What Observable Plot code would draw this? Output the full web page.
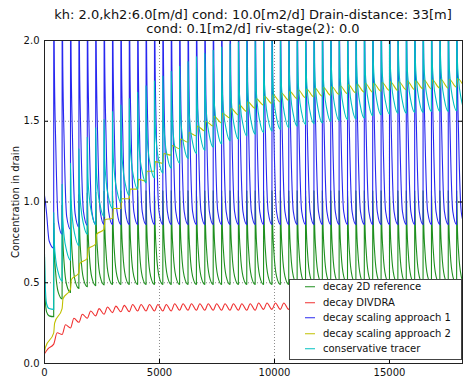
<!DOCTYPE html>
<html>
<head>
<meta charset="utf-8">
<script src="https://cdn.jsdelivr.net/npm/d3@7"></script>
<script src="https://cdn.jsdelivr.net/npm/@observablehq/plot@0.6"></script>
<style>
  html, body { margin: 0; padding: 0; background: #fff; }
  #chart { position: relative; width: 463px; height: 380px; overflow: hidden;
           font-family: "DejaVu Sans", sans-serif; color: #111; }
  #title { position: absolute; left: 44px; width: 418px; top: 8px; text-align: center;
           font-size: 13px; line-height: 14px; white-space: nowrap; }
  #legend { position: absolute; left: 289px; top: 279px; width: 173px; height: 81px;
            box-sizing: border-box; border: 1px solid #444; background: #fff; font-size: 10px; }
  #legend .row { position: absolute; left: 0; height: 15.5px; line-height: 15.5px; white-space: nowrap; }
  #legend .row svg { position: absolute; left: 15px; top: 0; }
  #legend .row span { position: absolute; left: 33px; top: 0; }
</style>
</head>
<body>
<div id="chart"></div>
<script>
// Day at which each yearly cycle begins (first cycle starts at day 0)
const cycleStart = [
  0, 400, 765, 1130, 1495, 1860, 2225, 2590, 2955, 3320,
  3685, 4050, 4415, 4780, 5145, 5510, 5875, 6240, 6605, 6970,
  7335, 7700, 8065, 8430, 8795, 9160, 9525, 9890, 10255, 10620,
  10985, 11350, 11715, 12080, 12445, 12810, 13175, 13540, 13905, 14270,
  14635, 15000, 15365, 15730, 16095, 16460, 16825, 17190, 17555, 17920
];
const lastDay = 18250;
// days after a pulse where the decaying curves are sampled
const sampleDays = [30, 90, 200];

// decay 2D reference
const greenPeak = [
  0.66, 0.87, 0.98, 1.02, 1.045, 1.055, 1.062, 1.067, 1.07, 1.07,
  1.07, 1.07, 1.07, 1.07, 1.07, 1.07, 1.07, 1.07, 1.07, 1.07,
  1.07, 1.07, 1.07, 1.07, 1.07, 1.07, 1.07, 1.07, 1.07, 1.07,
  1.07, 1.07, 1.07, 1.07, 1.07, 1.07, 1.07, 1.07, 1.07, 1.07,
  1.07, 1.07, 1.07, 1.07, 1.07, 1.07, 1.07, 1.07, 1.07, 1.07
];
const green30 = [
  0.40, 0.70, 0.786, 0.82, 0.84, 0.849, 0.855, 0.859, 0.86, 0.86,
  0.86, 0.86, 0.86, 0.86, 0.86, 0.86, 0.86, 0.86, 0.86, 0.86,
  0.86, 0.86, 0.86, 0.86, 0.86, 0.86, 0.86, 0.86, 0.86, 0.86,
  0.86, 0.86, 0.86, 0.86, 0.86, 0.86, 0.86, 0.86, 0.86, 0.86,
  0.86, 0.86, 0.86, 0.86, 0.86, 0.86, 0.86, 0.86, 0.86, 0.86
];
const green90 = [
  0.32, 0.555, 0.618, 0.648, 0.663, 0.671, 0.677, 0.68, 0.68, 0.68,
  0.68, 0.68, 0.68, 0.68, 0.68, 0.68, 0.68, 0.68, 0.68, 0.68,
  0.68, 0.68, 0.68, 0.68, 0.68, 0.68, 0.68, 0.68, 0.68, 0.68,
  0.68, 0.68, 0.68, 0.68, 0.68, 0.68, 0.68, 0.68, 0.68, 0.68,
  0.68, 0.68, 0.68, 0.68, 0.68, 0.68, 0.68, 0.68, 0.68, 0.68
];
const green200 = [
  0.295, 0.44, 0.486, 0.513, 0.524, 0.531, 0.536, 0.54, 0.54, 0.54,
  0.54, 0.54, 0.54, 0.54, 0.54, 0.54, 0.54, 0.54, 0.54, 0.54,
  0.54, 0.54, 0.54, 0.54, 0.54, 0.54, 0.54, 0.54, 0.54, 0.54,
  0.54, 0.54, 0.54, 0.54, 0.54, 0.54, 0.54, 0.54, 0.54, 0.54,
  0.54, 0.54, 0.54, 0.54, 0.54, 0.54, 0.54, 0.54, 0.54, 0.54
];
const greenLow = [
  0.29, 0.40, 0.44, 0.465, 0.475, 0.482, 0.487, 0.49, 0.49, 0.49,
  0.49, 0.49, 0.49, 0.49, 0.49, 0.49, 0.49, 0.49, 0.49, 0.49,
  0.49, 0.49, 0.49, 0.49, 0.49, 0.49, 0.49, 0.49, 0.49, 0.49,
  0.49, 0.49, 0.49, 0.49, 0.49, 0.49, 0.49, 0.49, 0.49, 0.49,
  0.49, 0.49, 0.49, 0.49, 0.49, 0.49, 0.49, 0.49, 0.49, 0.49
];

// decay DIVDRA
const redStart = 0.06;
const redPeak = [
  0.09, 0.19, 0.24, 0.28, 0.305, 0.325, 0.34, 0.35, 0.355, 0.36,
  0.365, 0.365, 0.365, 0.365, 0.365, 0.37, 0.37, 0.37, 0.37, 0.37,
  0.37, 0.37, 0.37, 0.37, 0.37, 0.375, 0.375, 0.375, 0.375, 0.375,
  0.375, 0.375, 0.375, 0.375, 0.375, 0.375, 0.375, 0.375, 0.375, 0.375,
  0.38, 0.38, 0.38, 0.38, 0.38, 0.38, 0.38, 0.38, 0.38, 0.38
];
const redLow = [
  0.12, 0.18, 0.22, 0.255, 0.28, 0.295, 0.305, 0.315, 0.32, 0.32,
  0.325, 0.325, 0.325, 0.325, 0.325, 0.33, 0.33, 0.33, 0.33, 0.33,
  0.33, 0.33, 0.33, 0.33, 0.33, 0.335, 0.335, 0.335, 0.335, 0.335,
  0.335, 0.335, 0.335, 0.335, 0.335, 0.335, 0.335, 0.335, 0.335, 0.335,
  0.335, 0.335, 0.335, 0.335, 0.335, 0.335, 0.335, 0.335, 0.335, 0.335
];

// decay scaling approach 1
const bluePeak = [
  1.04, 2.30, 2.30, 2.30, 2.30, 2.30, 2.30, 2.30, 2.30, 2.30,
  2.30, 2.30, 2.30, 2.30, 2.30, 2.30, 2.30, 2.30, 2.30, 2.30,
  2.30, 2.30, 2.30, 2.30, 2.30, 2.30, 2.30, 2.30, 2.30, 2.30,
  2.30, 2.30, 2.30, 2.30, 2.30, 2.30, 2.30, 2.30, 2.30, 2.30,
  2.30, 2.30, 2.30, 2.30, 2.30, 2.30, 2.30, 2.30, 2.30, 2.30
];
const blue30 = [
  1.01, 1.82, 1.84, 1.85, 1.85, 1.85, 1.85, 1.85, 1.85, 1.85,
  1.85, 1.85, 1.85, 1.85, 1.85, 1.85, 1.85, 1.85, 1.85, 1.85,
  1.85, 1.85, 1.85, 1.85, 1.85, 1.85, 1.85, 1.85, 1.85, 1.85,
  1.85, 1.85, 1.85, 1.85, 1.85, 1.85, 1.85, 1.85, 1.85, 1.85,
  1.85, 1.85, 1.85, 1.85, 1.85, 1.85, 1.85, 1.85, 1.85, 1.85
];
const blue90 = [
  0.93, 1.35, 1.37, 1.38, 1.38, 1.38, 1.38, 1.38, 1.38, 1.38,
  1.38, 1.38, 1.38, 1.38, 1.38, 1.38, 1.38, 1.38, 1.38, 1.38,
  1.38, 1.38, 1.38, 1.38, 1.38, 1.38, 1.38, 1.38, 1.38, 1.38,
  1.38, 1.38, 1.38, 1.38, 1.38, 1.38, 1.38, 1.38, 1.38, 1.38,
  1.38, 1.38, 1.38, 1.38, 1.38, 1.38, 1.38, 1.38, 1.38, 1.38
];
const blue200 = [
  0.76, 0.88, 0.91, 0.93, 0.94, 0.94, 0.94, 0.94, 0.94, 0.94,
  0.94, 0.94, 0.94, 0.94, 0.94, 0.94, 0.94, 0.94, 0.94, 0.94,
  0.94, 0.94, 0.94, 0.94, 0.94, 0.94, 0.94, 0.94, 0.94, 0.94,
  0.94, 0.94, 0.94, 0.94, 0.94, 0.94, 0.94, 0.94, 0.94, 0.94,
  0.94, 0.94, 0.94, 0.94, 0.94, 0.94, 0.94, 0.94, 0.94, 0.94
];
const blueLow = [
  0.715, 0.80, 0.83, 0.845, 0.855, 0.86, 0.86, 0.86, 0.86, 0.86,
  0.86, 0.86, 0.86, 0.86, 0.86, 0.86, 0.86, 0.86, 0.86, 0.86,
  0.86, 0.86, 0.86, 0.86, 0.86, 0.86, 0.86, 0.86, 0.86, 0.86,
  0.86, 0.86, 0.86, 0.86, 0.86, 0.86, 0.86, 0.86, 0.86, 0.86,
  0.86, 0.86, 0.86, 0.86, 0.86, 0.86, 0.86, 0.86, 0.86, 0.86
];

// decay scaling approach 2
const yellowStart = 0.07;
const yellowPeak = [
  0.10, 0.25, 0.40, 0.52, 0.62, 0.71, 0.80, 0.89, 0.96, 1.02,
  1.08, 1.14, 1.19, 1.25, 1.30, 1.35, 1.39, 1.43, 1.47, 1.50,
  1.53, 1.55, 1.58, 1.60, 1.62, 1.64, 1.655, 1.665, 1.675, 1.685,
  1.695, 1.70, 1.705, 1.71, 1.715, 1.72, 1.725, 1.73, 1.735, 1.735,
  1.74, 1.745, 1.745, 1.75, 1.75, 1.755, 1.755, 1.76, 1.76, 1.765
];
const yellowLow = [
  0.19, 0.34, 0.46, 0.56, 0.65, 0.74, 0.83, 0.90, 0.96, 1.02,
  1.08, 1.13, 1.19, 1.24, 1.29, 1.33, 1.37, 1.41, 1.44, 1.47,
  1.49, 1.52, 1.54, 1.56, 1.58, 1.60, 1.61, 1.62, 1.63, 1.64,
  1.645, 1.65, 1.655, 1.66, 1.665, 1.67, 1.675, 1.68, 1.68, 1.685,
  1.69, 1.69, 1.695, 1.695, 1.70, 1.70, 1.705, 1.705, 1.71, 1.71
];

// conservative tracer
const cyanPeak = [
  0.68, 0.935, 1.11, 1.24, 1.33, 1.40, 1.46, 1.51, 1.56, 1.60,
  1.64, 1.68, 1.72, 1.75, 1.78, 1.81, 1.84, 1.87, 1.90, 1.92,
  1.94, 1.96, 1.98, 1.99, 2.01, 2.02, 2.03, 2.04, 2.05, 2.06,
  2.07, 2.08, 2.085, 2.09, 2.10, 2.105, 2.11, 2.115, 2.12, 2.135,
  2.14, 2.145, 2.15, 2.15, 2.155, 2.155, 2.16, 2.16, 2.16, 2.165
];
const cyan30 = [
  0.50, 0.744, 0.899, 1.011, 1.092, 1.157, 1.213, 1.263, 1.308, 1.348,
  1.388, 1.428, 1.464, 1.494, 1.524, 1.554, 1.584, 1.614, 1.639, 1.659,
  1.679, 1.699, 1.715, 1.729, 1.745, 1.755, 1.765, 1.775, 1.785, 1.795,
  1.805, 1.812, 1.817, 1.825, 1.832, 1.837, 1.842, 1.847, 1.857, 1.867,
  1.872, 1.877, 1.880, 1.882, 1.885, 1.887, 1.890, 1.890, 1.892, 1.895
];
const cyan90 = [
  0.37, 0.642, 0.786, 0.888, 0.964, 1.027, 1.081, 1.131, 1.174, 1.214,
  1.254, 1.294, 1.327, 1.357, 1.387, 1.417, 1.447, 1.477, 1.500, 1.520,
  1.540, 1.560, 1.573, 1.590, 1.603, 1.613, 1.623, 1.633, 1.643, 1.653,
  1.663, 1.669, 1.674, 1.683, 1.689, 1.694, 1.699, 1.704, 1.716, 1.724,
  1.729, 1.734, 1.736, 1.739, 1.741, 1.744, 1.746, 1.746, 1.749, 1.751
];
const cyan200 = [
  0.34, 0.561, 0.696, 0.791, 0.864, 0.925, 0.976, 1.026, 1.067, 1.107,
  1.147, 1.187, 1.218, 1.248, 1.278, 1.308, 1.338, 1.368, 1.390, 1.410,
  1.430, 1.450, 1.461, 1.480, 1.491, 1.501, 1.511, 1.521, 1.531, 1.541,
  1.551, 1.556, 1.561, 1.571, 1.576, 1.581, 1.586, 1.591, 1.605, 1.611,
  1.616, 1.621, 1.622, 1.626, 1.627, 1.631, 1.632, 1.632, 1.636, 1.637
];
const cyanLow = [
  0.335, 0.51, 0.64, 0.73, 0.80, 0.86, 0.91, 0.96, 1.00, 1.04,
  1.08, 1.12, 1.15, 1.18, 1.21, 1.24, 1.27, 1.30, 1.32, 1.34,
  1.36, 1.38, 1.39, 1.41, 1.42, 1.43, 1.44, 1.45, 1.46, 1.47,
  1.48, 1.485, 1.49, 1.50, 1.505, 1.51, 1.515, 1.52, 1.535, 1.54,
  1.545, 1.55, 1.55, 1.555, 1.555, 1.56, 1.56, 1.56, 1.565, 1.565
];

const xTicks = [0, 5000, 10000, 15000];
const yTicks = [0, 0.5, 1.0, 1.5, 2.0];

const seriesNames = ["decay 2D reference", "decay DIVDRA", "decay scaling approach 1",
                     "decay scaling approach 2", "conservative tracer"];
const seriesColors = ["#1f8f1f", "#f03030", "#2828f0", "#c0c000", "#00c0c0"];

// Pulse-and-decay series: jump at each cycle start, then sampled decay
function decayRows(peak, d30, d90, d200, low) {
  const rows = [];
  cycleStart.forEach((s, c) => {
    if (c > 0) rows.push({day: s, value: low[c - 1]});
    rows.push({day: c > 0 ? s + 2 : s, value: peak[c]});
    rows.push({day: s + sampleDays[0], value: d30[c]});
    rows.push({day: s + sampleDays[1], value: d90[c]});
    rows.push({day: s + sampleDays[2], value: d200[c]});
  });
  rows.push({day: lastDay, value: low[low.length - 1]});
  return rows;
}

// Zig-zag series: low at each cycle start, peak a few days later
function zigzagRows(start, peak, low, lag) {
  const rows = [{day: 0, value: start}];
  cycleStart.forEach((s, c) => {
    if (c > 0) rows.push({day: s, value: low[c - 1]});
    rows.push({day: s + lag, value: peak[c]});
  });
  rows.push({day: lastDay, value: low[low.length - 1]});
  return rows;
}

const series = [
  decayRows(greenPeak, green30, green90, green200, greenLow),
  zigzagRows(redStart, redPeak, redLow, 150),
  decayRows(bluePeak, blue30, blue90, blue200, blueLow),
  zigzagRows(yellowStart, yellowPeak, yellowLow, 40),
  decayRows(cyanPeak, cyan30, cyan90, cyan200, cyanLow)
];

const frameH = 380 - 40 - 17;
const frameW = 463 - 44 - 1;

const chart = Plot.plot({
  width: 463,
  height: 380,
  marginTop: 40,
  marginLeft: 44,
  marginRight: 1,
  marginBottom: 17,
  style: {fontFamily: "DejaVu Sans, sans-serif", fontSize: "10px", background: "#fff", color: "#111"},
  x: {domain: [0, 18175]},
  y: {domain: [0, 2]},
  marks: [
    Plot.gridX({ticks: xTicks.slice(1), stroke: "#000", strokeOpacity: 0.45, strokeDasharray: "1,2"}),
    Plot.gridY({ticks: yTicks.slice(1, 4), stroke: "#000", strokeOpacity: 0.45, strokeDasharray: "1,2"}),
    ...series.map((rows, i) => Plot.line(rows, {
      x: "day", y: "value", stroke: seriesColors[i], strokeWidth: 1.1,
      curve: "monotone-x", clip: true
    })),
    Plot.tickX(xTicks, {x: d => d, insetTop: frameH - 4, stroke: "#000"}),
    Plot.tickX(xTicks, {x: d => d, insetBottom: frameH - 4, stroke: "#000"}),
    Plot.tickY(yTicks, {y: d => d, insetRight: frameW - 4, stroke: "#000"}),
    Plot.tickY(yTicks, {y: d => d, insetLeft: frameW - 4, stroke: "#000"}),
    Plot.frame({stroke: "#222"}),
    Plot.axisX({ticks: xTicks, tickSize: 0, tickPadding: 5, tickFormat: d3.format("d"), label: null}),
    Plot.axisY({ticks: yTicks, tickSize: 0, tickPadding: 5, tickFormat: d3.format(".1f"),
                label: "Concentration in drain", labelAnchor: "center", labelArrow: "none", labelOffset: 33})
  ]
});

const root = document.getElementById("chart");
root.appendChild(chart);

const title = document.createElement("div");
title.id = "title";
title.innerHTML = "kh: 2.0,kh2:6.0[m/d] cond: 10.0[m2/d] Drain-distance: 33[m]<br>cond: 0.1[m2/d] riv-stage(2): 0.0";
root.appendChild(title);

const legend = document.createElement("div");
legend.id = "legend";
seriesNames.forEach((name, i) => {
  const row = document.createElement("div");
  row.className = "row";
  row.style.top = (-1 + i * 15.5) + "px";
  row.innerHTML = `<svg width="10" height="15.5"><line x1="0" x2="10" y1="7.75" y2="7.75" stroke="${seriesColors[i]}" stroke-width="1"/></svg><span>${name}</span>`;
  legend.appendChild(row);
});
root.appendChild(legend);
</script>
</body>
</html>
